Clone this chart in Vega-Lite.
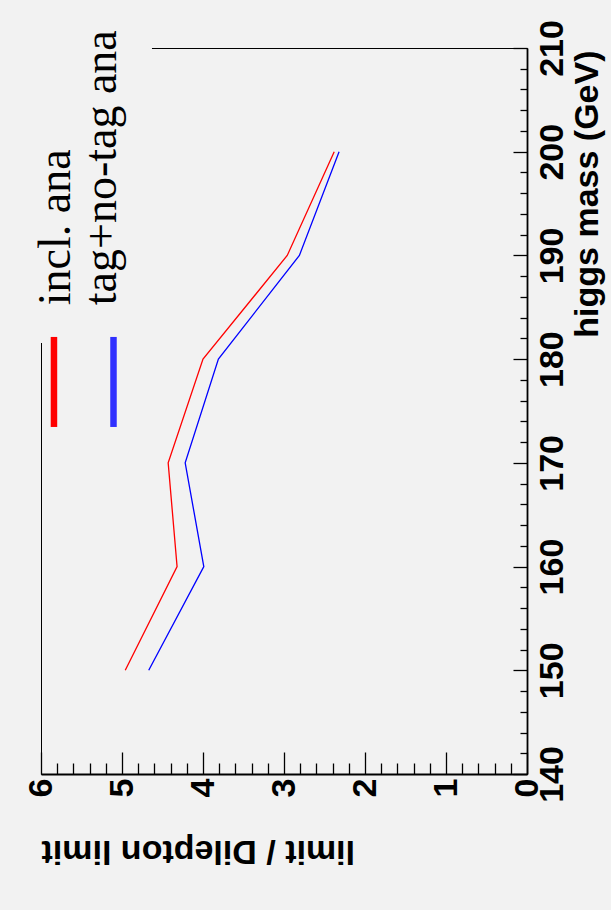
{
  "$schema": "https://vega.github.io/schema/vega-lite/v6.json",
  "width": 486,
  "height": 726,
  "autosize": {"type": "none"},
  "padding": {"left": 41, "top": 48, "right": 84, "bottom": 136},
  "background": "#f2f2f2",
  "config": {"view": {"stroke": "#000000", "strokeWidth": 1, "fill": "#f2f2f2"}},
  "resolve": {"axis": {"x": "independent", "y": "independent"}},
  "layer": [
    {
      "data": {"values": [
        {"series": "incl. ana", "mass": 150, "limit": 4.96},
        {"series": "incl. ana", "mass": 160, "limit": 4.32},
        {"series": "incl. ana", "mass": 170, "limit": 4.43},
        {"series": "incl. ana", "mass": 180, "limit": 4.0},
        {"series": "incl. ana", "mass": 190, "limit": 2.96},
        {"series": "incl. ana", "mass": 200, "limit": 2.38},
        {"series": "tag+no-tag ana", "mass": 150, "limit": 4.67},
        {"series": "tag+no-tag ana", "mass": 160, "limit": 3.99},
        {"series": "tag+no-tag ana", "mass": 170, "limit": 4.22},
        {"series": "tag+no-tag ana", "mass": 180, "limit": 3.81},
        {"series": "tag+no-tag ana", "mass": 190, "limit": 2.81},
        {"series": "tag+no-tag ana", "mass": 200, "limit": 2.32}
      ]},
      "mark": {"type": "line", "strokeWidth": 1.3},
      "encoding": {
        "x": {
          "field": "limit", "type": "quantitative",
          "scale": {"domain": [0, 6], "reverse": true, "nice": false, "zero": false},
          "axis": {
            "orient": "bottom",
            "values": [0, 1, 2, 3, 4, 5, 6], "format": "d",
            "ticks": false, "grid": false,
            "domain": true, "domainColor": "#000000", "domainWidth": 1.8,
            "labelAngle": 270, "labelAlign": "right", "labelBaseline": "middle", "labelPadding": 4,
            "labelFont": "Liberation Sans, Arial, Helvetica, sans-serif", "labelFontWeight": "bold", "labelFontSize": 34, "labelColor": "#000000",
            "labelFlush": false, "labelOverlap": false, "labelBound": false,
            "title": "limit / Dilepton limit",
            "titleFont": "Liberation Sans, Arial, Helvetica, sans-serif", "titleFontWeight": "bold", "titleFontSize": 34, "titleColor": "#000000",
            "titleAngle": 180, "titleAlign": "right", "titleBaseline": "alphabetic", "titleX": 0, "titleY": 66
          }
        },
        "y": {
          "field": "mass", "type": "quantitative",
          "scale": {"domain": [140, 210], "nice": false, "zero": false},
          "axis": {
            "orient": "right",
            "values": [140, 150, 160, 170, 180, 190, 200, 210], "format": "d",
            "ticks": false, "grid": false,
            "domain": true, "domainColor": "#000000", "domainWidth": 1.8,
            "labelAngle": 270, "labelAlign": "center", "labelBaseline": "alphabetic", "labelPadding": 35,
            "labelFont": "Liberation Sans, Arial, Helvetica, sans-serif", "labelFontWeight": "bold", "labelFontSize": 34, "labelColor": "#000000",
            "labelFlush": false, "labelOverlap": false, "labelBound": false,
            "title": "higgs mass (GeV)",
            "titleFont": "Liberation Sans, Arial, Helvetica, sans-serif", "titleFontWeight": "bold", "titleFontSize": 34, "titleColor": "#000000",
            "titleAngle": 270, "titleAlign": "right", "titleBaseline": "alphabetic", "titleX": 70, "titleY": 2
          }
        },
        "color": {
          "field": "series", "type": "nominal",
          "scale": {"domain": ["incl. ana", "tag+no-tag ana"], "range": ["#ff0000", "#0000ff"]},
          "legend": null
        },
        "order": {"field": "mass", "type": "quantitative"}
      }
    },
    {
      "data": {"values": [{"part": "legend box"}]},
      "mark": {"type": "rect", "fill": "#f2f2f2", "strokeWidth": 0},
      "encoding": {
        "x": {"datum": 6.12, "type": "quantitative",
          "scale": {"domain": [0, 6], "reverse": true, "nice": false, "zero": false},
          "axis": {"orient": "bottom", "values": [0, 1, 2, 3, 4, 5, 6], "ticks": true, "tickSize": -22, "tickWidth": 1.3, "tickColor": "#000000",
            "labels": false, "domain": false, "grid": false, "title": null}},
        "x2": {"datum": 4.63},
        "y": {"datum": 181.56, "type": "quantitative",
          "scale": {"domain": [140, 210], "nice": false, "zero": false},
          "axis": {"orient": "right", "values": [140, 150, 160, 170, 180, 190, 200, 210], "ticks": true, "tickSize": -14, "tickWidth": 1.3, "tickColor": "#000000",
            "labels": false, "domain": false, "grid": false, "title": null}},
        "y2": {"datum": 216}
      }
    },
    {
      "data": {"values": [{"series": "incl. ana"}]},
      "mark": {"type": "rule", "color": "#ff0000", "strokeWidth": 6.5},
      "encoding": {
        "x": {"datum": 5.84, "type": "quantitative",
          "scale": {"domain": [0, 6], "reverse": true, "nice": false, "zero": false},
          "axis": {"orient": "bottom", "values": [0.2, 0.4, 0.6, 0.8, 1.2, 1.4, 1.6, 1.8, 2.2, 2.4, 2.6, 2.8, 3.2, 3.4, 3.6, 3.8, 4.2, 4.4, 4.6, 4.8, 5.2, 5.4, 5.6, 5.8],
            "ticks": true, "tickSize": -11, "tickWidth": 1.3, "tickColor": "#000000",
            "labels": false, "domain": false, "grid": false, "title": null}},
        "y": {"datum": 182.14, "type": "quantitative",
          "scale": {"domain": [140, 210], "nice": false, "zero": false},
          "axis": {"orient": "right", "values": [142, 144, 146, 148, 152, 154, 156, 158, 162, 164, 166, 168, 172, 174, 176, 178, 182, 184, 186, 188, 192, 194, 196, 198, 202, 204, 206, 208],
            "ticks": true, "tickSize": -7, "tickWidth": 1.3, "tickColor": "#000000",
            "labels": false, "domain": false, "grid": false, "title": null}},
        "y2": {"datum": 173.46}
      }
    },
    {
      "data": {"values": [{"series": "tag+no-tag ana"}]},
      "mark": {"type": "rule", "color": "#3030ff", "strokeWidth": 6.5},
      "encoding": {
        "x": {"datum": 5.105, "type": "quantitative", "axis": null},
        "y": {"datum": 182.14, "type": "quantitative", "axis": null},
        "y2": {"datum": 173.46}
      }
    },
    {
      "data": {"values": [{"label": "incl. ana"}]},
      "mark": {"type": "text", "angle": 270, "align": "left", "baseline": "alphabetic", "font": "Liberation Serif, Times New Roman, Times, serif", "fontSize": 46, "color": "#000000"},
      "encoding": {
        "text": {"field": "label", "type": "nominal"},
        "x": {"datum": 5.642, "type": "quantitative", "axis": null},
        "y": {"datum": 185.2, "type": "quantitative", "axis": null}
      }
    },
    {
      "data": {"values": [{"label": "tag+no-tag ana"}]},
      "mark": {"type": "text", "angle": 270, "align": "left", "baseline": "alphabetic", "font": "Liberation Serif, Times New Roman, Times, serif", "fontSize": 46, "color": "#000000"},
      "encoding": {
        "text": {"field": "label", "type": "nominal"},
        "x": {"datum": 5.08, "type": "quantitative", "axis": null},
        "y": {"datum": 185.2, "type": "quantitative", "axis": null}
      }
    }
  ]
}
